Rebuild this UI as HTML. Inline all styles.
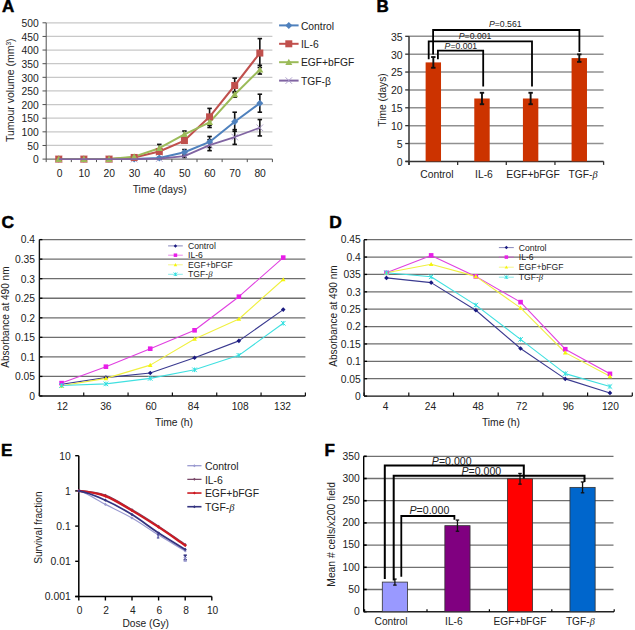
<!DOCTYPE html>
<html><head><meta charset="utf-8"><title>Figure</title>
<style>
html,body{margin:0;padding:0;background:#fff;width:635px;height:630px;overflow:hidden}
svg{display:block;font-family:"Liberation Sans", sans-serif}

</style></head><body>
<svg width="635" height="630" viewBox="0 0 635 630">
<rect width="635" height="630" fill="#fff"/>
<text x="2" y="12.4" font-size="17" text-anchor="start" font-weight="bold" fill="#000" stroke="#000" stroke-width="0.5">A</text>
<line x1="42.5" y1="159.1" x2="46.2" y2="159.1" stroke="#505050" stroke-width="1"/>
<text x="38.8" y="163.3" font-size="10.3" text-anchor="end" font-weight="normal" fill="#222">0</text>
<line x1="46.2" y1="145.47" x2="272.4" y2="145.47" stroke="#c8c8c8" stroke-width="1.3"/>
<line x1="42.5" y1="145.47" x2="46.2" y2="145.47" stroke="#505050" stroke-width="1"/>
<text x="38.8" y="149.67" font-size="10.3" text-anchor="end" font-weight="normal" fill="#222">50</text>
<line x1="46.2" y1="131.84" x2="272.4" y2="131.84" stroke="#c8c8c8" stroke-width="1.3"/>
<line x1="42.5" y1="131.84" x2="46.2" y2="131.84" stroke="#505050" stroke-width="1"/>
<text x="38.8" y="136.04" font-size="10.3" text-anchor="end" font-weight="normal" fill="#222">100</text>
<line x1="46.2" y1="118.21" x2="272.4" y2="118.21" stroke="#c8c8c8" stroke-width="1.3"/>
<line x1="42.5" y1="118.21" x2="46.2" y2="118.21" stroke="#505050" stroke-width="1"/>
<text x="38.8" y="122.41" font-size="10.3" text-anchor="end" font-weight="normal" fill="#222">150</text>
<line x1="46.2" y1="104.58" x2="272.4" y2="104.58" stroke="#c8c8c8" stroke-width="1.3"/>
<line x1="42.5" y1="104.58" x2="46.2" y2="104.58" stroke="#505050" stroke-width="1"/>
<text x="38.8" y="108.78" font-size="10.3" text-anchor="end" font-weight="normal" fill="#222">200</text>
<line x1="46.2" y1="90.95" x2="272.4" y2="90.95" stroke="#c8c8c8" stroke-width="1.3"/>
<line x1="42.5" y1="90.95" x2="46.2" y2="90.95" stroke="#505050" stroke-width="1"/>
<text x="38.8" y="95.15" font-size="10.3" text-anchor="end" font-weight="normal" fill="#222">250</text>
<line x1="46.2" y1="77.32" x2="272.4" y2="77.32" stroke="#c8c8c8" stroke-width="1.3"/>
<line x1="42.5" y1="77.32" x2="46.2" y2="77.32" stroke="#505050" stroke-width="1"/>
<text x="38.8" y="81.52" font-size="10.3" text-anchor="end" font-weight="normal" fill="#222">300</text>
<line x1="46.2" y1="63.69" x2="272.4" y2="63.69" stroke="#c8c8c8" stroke-width="1.3"/>
<line x1="42.5" y1="63.69" x2="46.2" y2="63.69" stroke="#505050" stroke-width="1"/>
<text x="38.8" y="67.89" font-size="10.3" text-anchor="end" font-weight="normal" fill="#222">350</text>
<line x1="46.2" y1="50.06" x2="272.4" y2="50.06" stroke="#c8c8c8" stroke-width="1.3"/>
<line x1="42.5" y1="50.06" x2="46.2" y2="50.06" stroke="#505050" stroke-width="1"/>
<text x="38.8" y="54.26" font-size="10.3" text-anchor="end" font-weight="normal" fill="#222">400</text>
<line x1="46.2" y1="36.43" x2="272.4" y2="36.43" stroke="#c8c8c8" stroke-width="1.3"/>
<line x1="42.5" y1="36.43" x2="46.2" y2="36.43" stroke="#505050" stroke-width="1"/>
<text x="38.8" y="40.63" font-size="10.3" text-anchor="end" font-weight="normal" fill="#222">450</text>
<line x1="46.2" y1="22.8" x2="272.4" y2="22.8" stroke="#c8c8c8" stroke-width="1.3"/>
<line x1="42.5" y1="22.8" x2="46.2" y2="22.8" stroke="#505050" stroke-width="1"/>
<text x="38.8" y="27" font-size="10.3" text-anchor="end" font-weight="normal" fill="#222">500</text>
<line x1="46.2" y1="22.8" x2="46.2" y2="159.1" stroke="#505050" stroke-width="1"/>
<line x1="46.2" y1="159.1" x2="272.4" y2="159.1" stroke="#505050" stroke-width="1"/>
<line x1="46.2" y1="159.1" x2="46.2" y2="162.1" stroke="#505050" stroke-width="1"/>
<line x1="71.33" y1="159.1" x2="71.33" y2="162.1" stroke="#505050" stroke-width="1"/>
<line x1="96.47" y1="159.1" x2="96.47" y2="162.1" stroke="#505050" stroke-width="1"/>
<line x1="121.6" y1="159.1" x2="121.6" y2="162.1" stroke="#505050" stroke-width="1"/>
<line x1="146.73" y1="159.1" x2="146.73" y2="162.1" stroke="#505050" stroke-width="1"/>
<line x1="171.87" y1="159.1" x2="171.87" y2="162.1" stroke="#505050" stroke-width="1"/>
<line x1="197" y1="159.1" x2="197" y2="162.1" stroke="#505050" stroke-width="1"/>
<line x1="222.13" y1="159.1" x2="222.13" y2="162.1" stroke="#505050" stroke-width="1"/>
<line x1="247.27" y1="159.1" x2="247.27" y2="162.1" stroke="#505050" stroke-width="1"/>
<line x1="272.4" y1="159.1" x2="272.4" y2="162.1" stroke="#505050" stroke-width="1"/>
<text x="59.57" y="176.6" font-size="10.3" text-anchor="middle" font-weight="normal" fill="#222">0</text>
<text x="84.2" y="176.6" font-size="10.3" text-anchor="middle" font-weight="normal" fill="#222">10</text>
<text x="109.33" y="176.6" font-size="10.3" text-anchor="middle" font-weight="normal" fill="#222">20</text>
<text x="134.47" y="176.6" font-size="10.3" text-anchor="middle" font-weight="normal" fill="#222">30</text>
<text x="159.6" y="176.6" font-size="10.3" text-anchor="middle" font-weight="normal" fill="#222">40</text>
<text x="184.73" y="176.6" font-size="10.3" text-anchor="middle" font-weight="normal" fill="#222">50</text>
<text x="209.87" y="176.6" font-size="10.3" text-anchor="middle" font-weight="normal" fill="#222">60</text>
<text x="235" y="176.6" font-size="10.3" text-anchor="middle" font-weight="normal" fill="#222">70</text>
<text x="260.13" y="176.6" font-size="10.3" text-anchor="middle" font-weight="normal" fill="#222">80</text>
<text x="159.7" y="193" font-size="10.3" text-anchor="middle" font-weight="normal" fill="#222">Time (days)</text>
<text transform="translate(14.4,90.2) rotate(-90)" font-size="10.5" text-anchor="middle" fill="#222">Tumour volume (mm<tspan font-size="6.5" dy="-3.5">3</tspan><tspan dy="3.5">)</tspan></text>
<line x1="159.3" y1="157.19" x2="159.3" y2="158.83" stroke="#111" stroke-width="1.6"/>
<line x1="157.05" y1="157.19" x2="161.55" y2="157.19" stroke="#111" stroke-width="1.6"/>
<line x1="157.05" y1="158.83" x2="161.55" y2="158.83" stroke="#111" stroke-width="1.6"/>
<line x1="184.43" y1="149.56" x2="184.43" y2="155.01" stroke="#111" stroke-width="1.6"/>
<line x1="182.18" y1="149.56" x2="186.68" y2="149.56" stroke="#111" stroke-width="1.6"/>
<line x1="182.18" y1="155.01" x2="186.68" y2="155.01" stroke="#111" stroke-width="1.6"/>
<line x1="209.57" y1="136.47" x2="209.57" y2="147.38" stroke="#111" stroke-width="1.6"/>
<line x1="207.32" y1="136.47" x2="211.82" y2="136.47" stroke="#111" stroke-width="1.6"/>
<line x1="207.32" y1="147.38" x2="211.82" y2="147.38" stroke="#111" stroke-width="1.6"/>
<line x1="234.7" y1="112.21" x2="234.7" y2="131.29" stroke="#111" stroke-width="1.6"/>
<line x1="232.45" y1="112.21" x2="236.95" y2="112.21" stroke="#111" stroke-width="1.6"/>
<line x1="232.45" y1="131.29" x2="236.95" y2="131.29" stroke="#111" stroke-width="1.6"/>
<line x1="259.83" y1="94.22" x2="259.83" y2="112.21" stroke="#111" stroke-width="1.6"/>
<line x1="257.58" y1="94.22" x2="262.08" y2="94.22" stroke="#111" stroke-width="1.6"/>
<line x1="257.58" y1="112.21" x2="262.08" y2="112.21" stroke="#111" stroke-width="1.6"/>
<line x1="159.3" y1="150.1" x2="159.3" y2="152.83" stroke="#111" stroke-width="1.6"/>
<line x1="157.05" y1="150.1" x2="161.55" y2="150.1" stroke="#111" stroke-width="1.6"/>
<line x1="157.05" y1="152.83" x2="161.55" y2="152.83" stroke="#111" stroke-width="1.6"/>
<line x1="184.43" y1="138.38" x2="184.43" y2="142.74" stroke="#111" stroke-width="1.6"/>
<line x1="182.18" y1="138.38" x2="186.68" y2="138.38" stroke="#111" stroke-width="1.6"/>
<line x1="182.18" y1="142.74" x2="186.68" y2="142.74" stroke="#111" stroke-width="1.6"/>
<line x1="209.57" y1="108.4" x2="209.57" y2="125.3" stroke="#111" stroke-width="1.6"/>
<line x1="207.32" y1="108.4" x2="211.82" y2="108.4" stroke="#111" stroke-width="1.6"/>
<line x1="207.32" y1="125.3" x2="211.82" y2="125.3" stroke="#111" stroke-width="1.6"/>
<line x1="234.7" y1="78.14" x2="234.7" y2="92.86" stroke="#111" stroke-width="1.6"/>
<line x1="232.45" y1="78.14" x2="236.95" y2="78.14" stroke="#111" stroke-width="1.6"/>
<line x1="232.45" y1="92.86" x2="236.95" y2="92.86" stroke="#111" stroke-width="1.6"/>
<line x1="259.83" y1="38.61" x2="259.83" y2="67.51" stroke="#111" stroke-width="1.6"/>
<line x1="257.58" y1="38.61" x2="262.08" y2="38.61" stroke="#111" stroke-width="1.6"/>
<line x1="257.58" y1="67.51" x2="262.08" y2="67.51" stroke="#111" stroke-width="1.6"/>
<line x1="159.3" y1="144.38" x2="159.3" y2="152.01" stroke="#111" stroke-width="1.6"/>
<line x1="157.05" y1="144.38" x2="161.55" y2="144.38" stroke="#111" stroke-width="1.6"/>
<line x1="157.05" y1="152.01" x2="161.55" y2="152.01" stroke="#111" stroke-width="1.6"/>
<line x1="184.43" y1="131.02" x2="184.43" y2="137.56" stroke="#111" stroke-width="1.6"/>
<line x1="182.18" y1="131.02" x2="186.68" y2="131.02" stroke="#111" stroke-width="1.6"/>
<line x1="182.18" y1="137.56" x2="186.68" y2="137.56" stroke="#111" stroke-width="1.6"/>
<line x1="209.57" y1="117.12" x2="209.57" y2="127.48" stroke="#111" stroke-width="1.6"/>
<line x1="207.32" y1="117.12" x2="211.82" y2="117.12" stroke="#111" stroke-width="1.6"/>
<line x1="207.32" y1="127.48" x2="211.82" y2="127.48" stroke="#111" stroke-width="1.6"/>
<line x1="234.7" y1="91.77" x2="234.7" y2="97.22" stroke="#111" stroke-width="1.6"/>
<line x1="232.45" y1="91.77" x2="236.95" y2="91.77" stroke="#111" stroke-width="1.6"/>
<line x1="232.45" y1="97.22" x2="236.95" y2="97.22" stroke="#111" stroke-width="1.6"/>
<line x1="259.83" y1="65.33" x2="259.83" y2="74.05" stroke="#111" stroke-width="1.6"/>
<line x1="257.58" y1="65.33" x2="262.08" y2="65.33" stroke="#111" stroke-width="1.6"/>
<line x1="257.58" y1="74.05" x2="262.08" y2="74.05" stroke="#111" stroke-width="1.6"/>
<line x1="184.43" y1="154.74" x2="184.43" y2="157.46" stroke="#111" stroke-width="1.6"/>
<line x1="182.18" y1="154.74" x2="186.68" y2="154.74" stroke="#111" stroke-width="1.6"/>
<line x1="182.18" y1="157.46" x2="186.68" y2="157.46" stroke="#111" stroke-width="1.6"/>
<line x1="209.57" y1="139.75" x2="209.57" y2="150.65" stroke="#111" stroke-width="1.6"/>
<line x1="207.32" y1="139.75" x2="211.82" y2="139.75" stroke="#111" stroke-width="1.6"/>
<line x1="207.32" y1="150.65" x2="211.82" y2="150.65" stroke="#111" stroke-width="1.6"/>
<line x1="234.7" y1="129.66" x2="234.7" y2="144.38" stroke="#111" stroke-width="1.6"/>
<line x1="232.45" y1="129.66" x2="236.95" y2="129.66" stroke="#111" stroke-width="1.6"/>
<line x1="232.45" y1="144.38" x2="236.95" y2="144.38" stroke="#111" stroke-width="1.6"/>
<line x1="259.83" y1="119.57" x2="259.83" y2="135.93" stroke="#111" stroke-width="1.6"/>
<line x1="257.58" y1="119.57" x2="262.08" y2="119.57" stroke="#111" stroke-width="1.6"/>
<line x1="257.58" y1="135.93" x2="262.08" y2="135.93" stroke="#111" stroke-width="1.6"/>
<polyline points="58.77,159.1 83.9,159.1 109.03,159.1 134.17,159.1 159.3,158.01 184.43,152.28 209.57,141.93 234.7,121.75 259.83,103.22" fill="none" stroke="#4F81BD" stroke-width="2" stroke-linejoin="round"/>
<polyline points="58.77,159.1 83.9,159.1 109.03,159.1 134.17,157.46 159.3,151.47 184.43,140.56 209.57,116.85 234.7,85.5 259.83,53.06" fill="none" stroke="#C0504D" stroke-width="2" stroke-linejoin="round"/>
<polyline points="58.77,159.1 83.9,159.1 109.03,159.1 134.17,156.65 159.3,148.2 184.43,134.29 209.57,122.3 234.7,94.49 259.83,69.69" fill="none" stroke="#9BBB59" stroke-width="2" stroke-linejoin="round"/>
<path d="M55.52 155.85L62.02 162.35M55.52 162.35L62.02 155.85" stroke="#a898c8" stroke-width="0.9" fill="none"/>
<path d="M80.65 155.85L87.15 162.35M80.65 162.35L87.15 155.85" stroke="#a898c8" stroke-width="0.9" fill="none"/>
<path d="M105.78 155.85L112.28 162.35M105.78 162.35L112.28 155.85" stroke="#a898c8" stroke-width="0.9" fill="none"/>
<path d="M130.92 155.85L137.42 162.35M130.92 162.35L137.42 155.85" stroke="#a898c8" stroke-width="0.9" fill="none"/>
<path d="M156.05 155.3L162.55 161.8M156.05 161.8L162.55 155.3" stroke="#a898c8" stroke-width="0.9" fill="none"/>
<path d="M181.18 152.85L187.68 159.35M181.18 159.35L187.68 152.85" stroke="#a898c8" stroke-width="0.9" fill="none"/>
<path d="M206.32 141.95L212.82 148.45M206.32 148.45L212.82 141.95" stroke="#a898c8" stroke-width="0.9" fill="none"/>
<path d="M231.45 133.77L237.95 140.27M231.45 140.27L237.95 133.77" stroke="#a898c8" stroke-width="0.9" fill="none"/>
<path d="M256.58 124.5L263.08 131M256.58 131L263.08 124.5" stroke="#a898c8" stroke-width="0.9" fill="none"/>
<path d="M58.77 155.6L62.27 159.1L58.77 162.6L55.27 159.1Z" fill="#4F81BD"/>
<path d="M83.9 155.6L87.4 159.1L83.9 162.6L80.4 159.1Z" fill="#4F81BD"/>
<path d="M109.03 155.6L112.53 159.1L109.03 162.6L105.53 159.1Z" fill="#4F81BD"/>
<path d="M134.17 155.6L137.67 159.1L134.17 162.6L130.67 159.1Z" fill="#4F81BD"/>
<path d="M159.3 154.51L162.8 158.01L159.3 161.51L155.8 158.01Z" fill="#4F81BD"/>
<path d="M184.43 148.78L187.93 152.28L184.43 155.78L180.93 152.28Z" fill="#4F81BD"/>
<path d="M209.57 138.43L213.07 141.93L209.57 145.43L206.07 141.93Z" fill="#4F81BD"/>
<path d="M234.7 118.25L238.2 121.75L234.7 125.25L231.2 121.75Z" fill="#4F81BD"/>
<path d="M259.83 99.72L263.33 103.22L259.83 106.72L256.33 103.22Z" fill="#4F81BD"/>
<rect x="55.27" y="155.6" width="7" height="7" fill="#C0504D" stroke="none" stroke-width="0"/>
<rect x="80.4" y="155.6" width="7" height="7" fill="#C0504D" stroke="none" stroke-width="0"/>
<rect x="105.53" y="155.6" width="7" height="7" fill="#C0504D" stroke="none" stroke-width="0"/>
<rect x="130.67" y="153.96" width="7" height="7" fill="#C0504D" stroke="none" stroke-width="0"/>
<rect x="155.8" y="147.97" width="7" height="7" fill="#C0504D" stroke="none" stroke-width="0"/>
<rect x="180.93" y="137.06" width="7" height="7" fill="#C0504D" stroke="none" stroke-width="0"/>
<rect x="206.07" y="113.35" width="7" height="7" fill="#C0504D" stroke="none" stroke-width="0"/>
<rect x="231.2" y="82" width="7" height="7" fill="#C0504D" stroke="none" stroke-width="0"/>
<rect x="256.33" y="49.56" width="7" height="7" fill="#C0504D" stroke="none" stroke-width="0"/>
<path d="M58.77 155.6L62.27 161.9L55.27 161.9Z" fill="#9BBB59"/>
<path d="M83.9 155.6L87.4 161.9L80.4 161.9Z" fill="#9BBB59"/>
<path d="M109.03 155.6L112.53 161.9L105.53 161.9Z" fill="#9BBB59"/>
<path d="M134.17 153.15L137.67 159.45L130.67 159.45Z" fill="#9BBB59"/>
<path d="M159.3 144.7L162.8 151L155.8 151Z" fill="#9BBB59"/>
<path d="M184.43 130.79L187.93 137.09L180.93 137.09Z" fill="#9BBB59"/>
<path d="M209.57 118.8L213.07 125.1L206.07 125.1Z" fill="#9BBB59"/>
<path d="M234.7 90.99L238.2 97.29L231.2 97.29Z" fill="#9BBB59"/>
<path d="M259.83 66.19L263.33 72.49L256.33 72.49Z" fill="#9BBB59"/>
<polyline points="58.77,159.1 83.9,159.1 109.03,159.1 134.17,159.1 159.3,158.55 184.43,156.1 209.57,145.2 234.7,137.02 259.83,127.75" fill="none" stroke="#8064A2" stroke-width="1.8" stroke-linejoin="round"/>
<line x1="279.1" y1="25.4" x2="298.6" y2="25.4" stroke="#4F81BD" stroke-width="2"/>
<path d="M288.8 21.9L292.3 25.4L288.8 28.9L285.3 25.4Z" fill="#4F81BD"/>
<text x="300.9" y="29.6" font-size="10.3" text-anchor="start" font-weight="normal" fill="#222">Control</text>
<line x1="279.1" y1="43.8" x2="298.6" y2="43.8" stroke="#C0504D" stroke-width="2"/>
<rect x="285.3" y="40.3" width="7" height="7" fill="#C0504D" stroke="none" stroke-width="0"/>
<text x="300.9" y="48" font-size="10.3" text-anchor="start" font-weight="normal" fill="#222">IL-6</text>
<line x1="279.1" y1="62.2" x2="298.6" y2="62.2" stroke="#9BBB59" stroke-width="2"/>
<path d="M288.8 58.7L292.3 65L285.3 65Z" fill="#9BBB59"/>
<text x="300.9" y="66.4" font-size="10.3" text-anchor="start" font-weight="normal" fill="#222">EGF+bFGF</text>
<line x1="279.1" y1="80.6" x2="298.6" y2="80.6" stroke="#8064A2" stroke-width="2"/>
<path d="M285.55 77.35L292.05 83.85M285.55 83.85L292.05 77.35" stroke="#a898c8" stroke-width="0.9" fill="none"/>
<text x="300.9" y="84.8" font-size="10.3" text-anchor="start" font-weight="normal" fill="#222">TGF-&#946;</text>
<text x="376.4" y="12" font-size="17" text-anchor="start" font-weight="bold" fill="#000" stroke="#000" stroke-width="0.5">B</text>
<line x1="405.2" y1="161.4" x2="409" y2="161.4" stroke="#333" stroke-width="1.3"/>
<text x="402.6" y="165.8" font-size="10.5" text-anchor="end" font-weight="normal" fill="#222">0</text>
<line x1="409" y1="143.53" x2="603.6" y2="143.53" stroke="#909090" stroke-width="1.5"/>
<line x1="405.2" y1="143.53" x2="409" y2="143.53" stroke="#333" stroke-width="1.3"/>
<text x="402.6" y="147.93" font-size="10.5" text-anchor="end" font-weight="normal" fill="#222">5</text>
<line x1="409" y1="125.66" x2="603.6" y2="125.66" stroke="#909090" stroke-width="1.5"/>
<line x1="405.2" y1="125.66" x2="409" y2="125.66" stroke="#333" stroke-width="1.3"/>
<text x="402.6" y="130.06" font-size="10.5" text-anchor="end" font-weight="normal" fill="#222">10</text>
<line x1="409" y1="107.79" x2="603.6" y2="107.79" stroke="#909090" stroke-width="1.5"/>
<line x1="405.2" y1="107.79" x2="409" y2="107.79" stroke="#333" stroke-width="1.3"/>
<text x="402.6" y="112.19" font-size="10.5" text-anchor="end" font-weight="normal" fill="#222">15</text>
<line x1="409" y1="89.92" x2="603.6" y2="89.92" stroke="#909090" stroke-width="1.5"/>
<line x1="405.2" y1="89.92" x2="409" y2="89.92" stroke="#333" stroke-width="1.3"/>
<text x="402.6" y="94.32" font-size="10.5" text-anchor="end" font-weight="normal" fill="#222">20</text>
<line x1="409" y1="72.05" x2="603.6" y2="72.05" stroke="#909090" stroke-width="1.5"/>
<line x1="405.2" y1="72.05" x2="409" y2="72.05" stroke="#333" stroke-width="1.3"/>
<text x="402.6" y="76.45" font-size="10.5" text-anchor="end" font-weight="normal" fill="#222">25</text>
<line x1="409" y1="54.18" x2="603.6" y2="54.18" stroke="#909090" stroke-width="1.5"/>
<line x1="405.2" y1="54.18" x2="409" y2="54.18" stroke="#333" stroke-width="1.3"/>
<text x="402.6" y="58.58" font-size="10.5" text-anchor="end" font-weight="normal" fill="#222">30</text>
<line x1="409" y1="36.31" x2="603.6" y2="36.31" stroke="#909090" stroke-width="1.5"/>
<line x1="405.2" y1="36.31" x2="409" y2="36.31" stroke="#333" stroke-width="1.3"/>
<text x="402.6" y="40.71" font-size="10.5" text-anchor="end" font-weight="normal" fill="#222">35</text>
<line x1="409" y1="36.31" x2="409" y2="164.9" stroke="#333" stroke-width="1.5"/>
<line x1="405.5" y1="161.4" x2="603.6" y2="161.4" stroke="#333" stroke-width="1.5"/>
<line x1="409" y1="161.4" x2="409" y2="164.9" stroke="#333" stroke-width="1.3"/>
<line x1="457.65" y1="161.4" x2="457.65" y2="164.9" stroke="#333" stroke-width="1.3"/>
<line x1="506.3" y1="161.4" x2="506.3" y2="164.9" stroke="#333" stroke-width="1.3"/>
<line x1="554.95" y1="161.4" x2="554.95" y2="164.9" stroke="#333" stroke-width="1.3"/>
<line x1="603.6" y1="161.4" x2="603.6" y2="164.9" stroke="#333" stroke-width="1.3"/>
<rect x="425.62" y="62.4" width="15.4" height="99" fill="#CC3300" stroke="none" stroke-width="0"/>
<rect x="474.28" y="98.5" width="15.4" height="62.9" fill="#CC3300" stroke="none" stroke-width="0"/>
<rect x="522.92" y="98.5" width="15.4" height="62.9" fill="#CC3300" stroke="none" stroke-width="0"/>
<rect x="571.58" y="58.11" width="15.4" height="103.29" fill="#CC3300" stroke="none" stroke-width="0"/>
<line x1="433.32" y1="57.04" x2="433.32" y2="67.76" stroke="#111" stroke-width="1.9"/>
<line x1="431.12" y1="57.04" x2="435.52" y2="57.04" stroke="#111" stroke-width="1.9"/>
<line x1="431.12" y1="67.76" x2="435.52" y2="67.76" stroke="#111" stroke-width="1.9"/>
<line x1="481.98" y1="92.78" x2="481.98" y2="104.22" stroke="#111" stroke-width="1.9"/>
<line x1="479.78" y1="92.78" x2="484.18" y2="92.78" stroke="#111" stroke-width="1.9"/>
<line x1="479.78" y1="104.22" x2="484.18" y2="104.22" stroke="#111" stroke-width="1.9"/>
<line x1="530.62" y1="92.78" x2="530.62" y2="104.22" stroke="#111" stroke-width="1.9"/>
<line x1="528.42" y1="92.78" x2="532.83" y2="92.78" stroke="#111" stroke-width="1.9"/>
<line x1="528.42" y1="104.22" x2="532.83" y2="104.22" stroke="#111" stroke-width="1.9"/>
<line x1="579.28" y1="54.36" x2="579.28" y2="61.86" stroke="#111" stroke-width="1.9"/>
<line x1="577.08" y1="54.36" x2="581.48" y2="54.36" stroke="#111" stroke-width="1.9"/>
<line x1="577.08" y1="61.86" x2="581.48" y2="61.86" stroke="#111" stroke-width="1.9"/>
<text x="436.93" y="177.8" font-size="10.3" text-anchor="middle" font-weight="normal" fill="#222">Control</text>
<text x="483.98" y="177.8" font-size="10.3" text-anchor="middle" font-weight="normal" fill="#222">IL-6</text>
<text x="533.02" y="177.8" font-size="10.3" text-anchor="middle" font-weight="normal" fill="#222">EGF+bFGF</text>
<text x="583.08" y="177.8" font-size="10.3" text-anchor="middle" font-weight="normal" fill="#222">TGF-<tspan font-family="Liberation Serif" font-style="italic">&#946;</tspan></text>
<text x="0" y="0" font-size="10.2" text-anchor="middle" font-weight="normal" fill="#222" transform="translate(385.7,100) rotate(-90)">Time (days)</text>
<path d="M433.1 54.5V30.0H579.4V52" stroke="#000" stroke-width="1.8" fill="none"/>
<path d="M428.7 59.2V41.3H532V86.6" stroke="#000" stroke-width="1.8" fill="none"/>
<path d="M437.9 59.2V50.6H483.2V86.6" stroke="#000" stroke-width="1.8" fill="none"/>
<text x="489" y="27.3" font-size="8.7" fill="#222"><tspan font-style="italic">P</tspan>=0.561</text>
<text x="458.8" y="39" font-size="8.7" fill="#222"><tspan font-style="italic">P</tspan>=0.001</text>
<text x="444.6" y="49.4" font-size="8.7" fill="#222"><tspan font-style="italic">P</tspan>=0.001</text>
<text x="1.5" y="228.1" font-size="17.4" text-anchor="start" font-weight="bold" fill="#000" stroke="#000" stroke-width="0.5">C</text>
<line x1="39.4" y1="396" x2="42.4" y2="396" stroke="#000" stroke-width="1.3"/>
<text x="35" y="399.8" font-size="10.3" text-anchor="end" font-weight="normal" fill="#222">0</text>
<line x1="39.4" y1="376.45" x2="305.4" y2="376.45" stroke="#6e6e6e" stroke-width="1.3"/>
<line x1="39.4" y1="376.45" x2="42.4" y2="376.45" stroke="#000" stroke-width="1.3"/>
<text x="35" y="380.25" font-size="10.3" text-anchor="end" font-weight="normal" fill="#222">0.05</text>
<line x1="39.4" y1="356.9" x2="305.4" y2="356.9" stroke="#6e6e6e" stroke-width="1.3"/>
<line x1="39.4" y1="356.9" x2="42.4" y2="356.9" stroke="#000" stroke-width="1.3"/>
<text x="35" y="360.7" font-size="10.3" text-anchor="end" font-weight="normal" fill="#222">0.1</text>
<line x1="39.4" y1="337.35" x2="305.4" y2="337.35" stroke="#6e6e6e" stroke-width="1.3"/>
<line x1="39.4" y1="337.35" x2="42.4" y2="337.35" stroke="#000" stroke-width="1.3"/>
<text x="35" y="341.15" font-size="10.3" text-anchor="end" font-weight="normal" fill="#222">0.15</text>
<line x1="39.4" y1="317.8" x2="305.4" y2="317.8" stroke="#6e6e6e" stroke-width="1.3"/>
<line x1="39.4" y1="317.8" x2="42.4" y2="317.8" stroke="#000" stroke-width="1.3"/>
<text x="35" y="321.6" font-size="10.3" text-anchor="end" font-weight="normal" fill="#222">0.2</text>
<line x1="39.4" y1="298.25" x2="305.4" y2="298.25" stroke="#6e6e6e" stroke-width="1.3"/>
<line x1="39.4" y1="298.25" x2="42.4" y2="298.25" stroke="#000" stroke-width="1.3"/>
<text x="35" y="302.05" font-size="10.3" text-anchor="end" font-weight="normal" fill="#222">0.25</text>
<line x1="39.4" y1="278.7" x2="305.4" y2="278.7" stroke="#6e6e6e" stroke-width="1.3"/>
<line x1="39.4" y1="278.7" x2="42.4" y2="278.7" stroke="#000" stroke-width="1.3"/>
<text x="35" y="282.5" font-size="10.3" text-anchor="end" font-weight="normal" fill="#222">0.3</text>
<line x1="39.4" y1="259.15" x2="305.4" y2="259.15" stroke="#6e6e6e" stroke-width="1.3"/>
<line x1="39.4" y1="259.15" x2="42.4" y2="259.15" stroke="#000" stroke-width="1.3"/>
<text x="35" y="262.95" font-size="10.3" text-anchor="end" font-weight="normal" fill="#222">0.35</text>
<line x1="39.4" y1="239.6" x2="305.4" y2="239.6" stroke="#6e6e6e" stroke-width="1.3"/>
<line x1="39.4" y1="239.6" x2="42.4" y2="239.6" stroke="#000" stroke-width="1.3"/>
<text x="35" y="243.4" font-size="10.3" text-anchor="end" font-weight="normal" fill="#222">0.4</text>
<line x1="39.4" y1="239.6" x2="39.4" y2="396" stroke="#111" stroke-width="1.4"/>
<line x1="39.4" y1="396" x2="305.4" y2="396" stroke="#111" stroke-width="1.4"/>
<line x1="39.4" y1="396" x2="39.4" y2="392.5" stroke="#111" stroke-width="1.2"/>
<line x1="83.73" y1="396" x2="83.73" y2="392.5" stroke="#111" stroke-width="1.2"/>
<line x1="128.07" y1="396" x2="128.07" y2="392.5" stroke="#111" stroke-width="1.2"/>
<line x1="172.4" y1="396" x2="172.4" y2="392.5" stroke="#111" stroke-width="1.2"/>
<line x1="216.73" y1="396" x2="216.73" y2="392.5" stroke="#111" stroke-width="1.2"/>
<line x1="261.07" y1="396" x2="261.07" y2="392.5" stroke="#111" stroke-width="1.2"/>
<line x1="305.4" y1="396" x2="305.4" y2="392.5" stroke="#111" stroke-width="1.2"/>
<text x="62.3" y="409.6" font-size="10.2" text-anchor="middle" font-weight="normal" fill="#222">12</text>
<text x="105.8" y="409.6" font-size="10.2" text-anchor="middle" font-weight="normal" fill="#222">36</text>
<text x="151.1" y="409.6" font-size="10.2" text-anchor="middle" font-weight="normal" fill="#222">60</text>
<text x="193.4" y="409.6" font-size="10.2" text-anchor="middle" font-weight="normal" fill="#222">84</text>
<text x="240.2" y="409.6" font-size="10.2" text-anchor="middle" font-weight="normal" fill="#222">108</text>
<text x="282.5" y="409.6" font-size="10.2" text-anchor="middle" font-weight="normal" fill="#222">132</text>
<text x="174" y="426.2" font-size="10.3" text-anchor="middle" font-weight="normal" fill="#222">Time (h)</text>
<text x="0" y="0" font-size="10.1" text-anchor="middle" font-weight="normal" fill="#222" transform="translate(9.1,317.1) rotate(-90)" textLength="101.5" lengthAdjust="spacingAndGlyphs">Absorbance at 490 nm</text>
<polyline points="61.57,384.27 105.9,377.62 150.23,372.93 194.57,357.68 238.9,340.87 283.23,309.59" fill="none" stroke="#3a3a90" stroke-width="1.1" stroke-linejoin="round"/>
<polyline points="61.57,383.1 105.9,366.68 150.23,348.69 194.57,330.31 238.9,296.69 283.23,257.59" fill="none" stroke="#e040e0" stroke-width="1.1" stroke-linejoin="round"/>
<polyline points="61.57,385.83 105.9,378.4 150.23,365.11 194.57,338.91 238.9,318.97 283.23,279.48" fill="none" stroke="#f0f040" stroke-width="1.1" stroke-linejoin="round"/>
<polyline points="61.57,385.44 105.9,383.88 150.23,378.4 194.57,369.8 238.9,355.34 283.23,323.27" fill="none" stroke="#40e0e0" stroke-width="1.1" stroke-linejoin="round"/>
<path d="M61.57 381.97L63.87 384.27L61.57 386.57L59.27 384.27Z" fill="#1a1a80"/>
<path d="M105.9 375.32L108.2 377.62L105.9 379.92L103.6 377.62Z" fill="#1a1a80"/>
<path d="M150.23 370.63L152.53 372.93L150.23 375.23L147.93 372.93Z" fill="#1a1a80"/>
<path d="M194.57 355.38L196.87 357.68L194.57 359.98L192.27 357.68Z" fill="#1a1a80"/>
<path d="M238.9 338.57L241.2 340.87L238.9 343.17L236.6 340.87Z" fill="#1a1a80"/>
<path d="M283.23 307.29L285.53 309.59L283.23 311.89L280.93 309.59Z" fill="#1a1a80"/>
<rect x="59.27" y="380.8" width="4.6" height="4.6" fill="#e81ee8" stroke="none" stroke-width="0"/>
<rect x="103.6" y="364.38" width="4.6" height="4.6" fill="#e81ee8" stroke="none" stroke-width="0"/>
<rect x="147.93" y="346.39" width="4.6" height="4.6" fill="#e81ee8" stroke="none" stroke-width="0"/>
<rect x="192.27" y="328.01" width="4.6" height="4.6" fill="#e81ee8" stroke="none" stroke-width="0"/>
<rect x="236.6" y="294.39" width="4.6" height="4.6" fill="#e81ee8" stroke="none" stroke-width="0"/>
<rect x="280.93" y="255.29" width="4.6" height="4.6" fill="#e81ee8" stroke="none" stroke-width="0"/>
<path d="M61.57 383.53L63.87 387.67L59.27 387.67Z" fill="#f5f50a"/>
<path d="M105.9 376.1L108.2 380.24L103.6 380.24Z" fill="#f5f50a"/>
<path d="M150.23 362.81L152.53 366.95L147.93 366.95Z" fill="#f5f50a"/>
<path d="M194.57 336.61L196.87 340.75L192.27 340.75Z" fill="#f5f50a"/>
<path d="M238.9 316.67L241.2 320.81L236.6 320.81Z" fill="#f5f50a"/>
<path d="M283.23 277.18L285.53 281.32L280.93 281.32Z" fill="#f5f50a"/>
<path d="M59.27 383.14L63.87 387.74M59.27 387.74L63.87 383.14M61.57 383.14L61.57 387.74" stroke="#30e0e0" stroke-width="1" fill="none"/>
<path d="M103.6 381.58L108.2 386.18M103.6 386.18L108.2 381.58M105.9 381.58L105.9 386.18" stroke="#30e0e0" stroke-width="1" fill="none"/>
<path d="M147.93 376.1L152.53 380.7M147.93 380.7L152.53 376.1M150.23 376.1L150.23 380.7" stroke="#30e0e0" stroke-width="1" fill="none"/>
<path d="M192.27 367.5L196.87 372.1M192.27 372.1L196.87 367.5M194.57 367.5L194.57 372.1" stroke="#30e0e0" stroke-width="1" fill="none"/>
<path d="M236.6 353.04L241.2 357.64M236.6 357.64L241.2 353.04M238.9 353.04L238.9 357.64" stroke="#30e0e0" stroke-width="1" fill="none"/>
<path d="M280.93 320.97L285.53 325.57M280.93 325.57L285.53 320.97M283.23 320.97L283.23 325.57" stroke="#30e0e0" stroke-width="1" fill="none"/>
<line x1="168.1" y1="245.9" x2="182.8" y2="245.9" stroke="#3a3a90" stroke-width="1" opacity="0.6"/>
<path d="M175.45 244.15L177.2 245.9L175.45 247.65L173.7 245.9Z" fill="#1a1a80"/>
<text x="188.1" y="249" font-size="8.6" text-anchor="start" font-weight="normal" fill="#222">Control</text>
<line x1="168.1" y1="255.2" x2="182.8" y2="255.2" stroke="#e040e0" stroke-width="1" opacity="0.6"/>
<rect x="173.7" y="253.45" width="3.5" height="3.5" fill="#e81ee8" stroke="none" stroke-width="0"/>
<text x="188.1" y="258.3" font-size="8.6" text-anchor="start" font-weight="normal" fill="#222">IL-6</text>
<line x1="168.1" y1="264.8" x2="182.8" y2="264.8" stroke="#f0f040" stroke-width="1" opacity="0.6"/>
<path d="M175.45 263.05L177.2 266.2L173.7 266.2Z" fill="#f5f50a"/>
<text x="188.1" y="267.9" font-size="8.6" text-anchor="start" font-weight="normal" fill="#222">EGF+bFGF</text>
<line x1="168.1" y1="274.3" x2="182.8" y2="274.3" stroke="#40e0e0" stroke-width="1" opacity="0.6"/>
<path d="M173.7 272.55L177.2 276.05M173.7 276.05L177.2 272.55M175.45 272.55L175.45 276.05" stroke="#30e0e0" stroke-width="1" fill="none"/>
<text x="188.1" y="277.4" font-size="8.6" text-anchor="start" font-weight="normal" fill="#222">TGF-<tspan font-family="Liberation Serif" font-style="italic">&#946;</tspan></text>
<text x="329.3" y="227.5" font-size="17.4" text-anchor="start" font-weight="bold" fill="#000" stroke="#000" stroke-width="0.5">D</text>
<line x1="364.1" y1="396.1" x2="367.1" y2="396.1" stroke="#000" stroke-width="1.3"/>
<text x="360.8" y="399.9" font-size="10.3" text-anchor="end" font-weight="normal" fill="#222">0</text>
<line x1="364.1" y1="378.72" x2="632.3" y2="378.72" stroke="#6e6e6e" stroke-width="1.3"/>
<line x1="364.1" y1="378.72" x2="367.1" y2="378.72" stroke="#000" stroke-width="1.3"/>
<text x="360.8" y="382.52" font-size="10.3" text-anchor="end" font-weight="normal" fill="#222">0.05</text>
<line x1="364.1" y1="361.34" x2="632.3" y2="361.34" stroke="#6e6e6e" stroke-width="1.3"/>
<line x1="364.1" y1="361.34" x2="367.1" y2="361.34" stroke="#000" stroke-width="1.3"/>
<text x="360.8" y="365.14" font-size="10.3" text-anchor="end" font-weight="normal" fill="#222">0.1</text>
<line x1="364.1" y1="343.96" x2="632.3" y2="343.96" stroke="#6e6e6e" stroke-width="1.3"/>
<line x1="364.1" y1="343.96" x2="367.1" y2="343.96" stroke="#000" stroke-width="1.3"/>
<text x="360.8" y="347.76" font-size="10.3" text-anchor="end" font-weight="normal" fill="#222">0.15</text>
<line x1="364.1" y1="326.58" x2="632.3" y2="326.58" stroke="#6e6e6e" stroke-width="1.3"/>
<line x1="364.1" y1="326.58" x2="367.1" y2="326.58" stroke="#000" stroke-width="1.3"/>
<text x="360.8" y="330.38" font-size="10.3" text-anchor="end" font-weight="normal" fill="#222">0.2</text>
<line x1="364.1" y1="309.2" x2="632.3" y2="309.2" stroke="#6e6e6e" stroke-width="1.3"/>
<line x1="364.1" y1="309.2" x2="367.1" y2="309.2" stroke="#000" stroke-width="1.3"/>
<text x="360.8" y="313" font-size="10.3" text-anchor="end" font-weight="normal" fill="#222">0.25</text>
<line x1="364.1" y1="291.82" x2="632.3" y2="291.82" stroke="#6e6e6e" stroke-width="1.3"/>
<line x1="364.1" y1="291.82" x2="367.1" y2="291.82" stroke="#000" stroke-width="1.3"/>
<text x="360.8" y="295.62" font-size="10.3" text-anchor="end" font-weight="normal" fill="#222">0.3</text>
<line x1="364.1" y1="274.44" x2="632.3" y2="274.44" stroke="#6e6e6e" stroke-width="1.3"/>
<line x1="364.1" y1="274.44" x2="367.1" y2="274.44" stroke="#000" stroke-width="1.3"/>
<text x="360.8" y="278.24" font-size="10.3" text-anchor="end" font-weight="normal" fill="#222">035</text>
<line x1="364.1" y1="257.06" x2="632.3" y2="257.06" stroke="#6e6e6e" stroke-width="1.3"/>
<line x1="364.1" y1="257.06" x2="367.1" y2="257.06" stroke="#000" stroke-width="1.3"/>
<text x="360.8" y="260.86" font-size="10.3" text-anchor="end" font-weight="normal" fill="#222">0.4</text>
<line x1="364.1" y1="239.68" x2="632.3" y2="239.68" stroke="#6e6e6e" stroke-width="1.3"/>
<line x1="364.1" y1="239.68" x2="367.1" y2="239.68" stroke="#000" stroke-width="1.3"/>
<text x="360.8" y="243.48" font-size="10.3" text-anchor="end" font-weight="normal" fill="#222">0.45</text>
<line x1="364.1" y1="239.68" x2="364.1" y2="396.1" stroke="#111" stroke-width="1.4"/>
<line x1="364.1" y1="396.1" x2="632.3" y2="396.1" stroke="#111" stroke-width="1.4"/>
<line x1="364.1" y1="396.1" x2="364.1" y2="392.6" stroke="#111" stroke-width="1.2"/>
<line x1="408.8" y1="396.1" x2="408.8" y2="392.6" stroke="#111" stroke-width="1.2"/>
<line x1="453.5" y1="396.1" x2="453.5" y2="392.6" stroke="#111" stroke-width="1.2"/>
<line x1="498.2" y1="396.1" x2="498.2" y2="392.6" stroke="#111" stroke-width="1.2"/>
<line x1="542.9" y1="396.1" x2="542.9" y2="392.6" stroke="#111" stroke-width="1.2"/>
<line x1="587.6" y1="396.1" x2="587.6" y2="392.6" stroke="#111" stroke-width="1.2"/>
<line x1="632.3" y1="396.1" x2="632.3" y2="392.6" stroke="#111" stroke-width="1.2"/>
<text x="385.6" y="409.6" font-size="10.2" text-anchor="middle" font-weight="normal" fill="#222">4</text>
<text x="430.5" y="409.6" font-size="10.2" text-anchor="middle" font-weight="normal" fill="#222">24</text>
<text x="478.1" y="409.6" font-size="10.2" text-anchor="middle" font-weight="normal" fill="#222">48</text>
<text x="521.7" y="409.6" font-size="10.2" text-anchor="middle" font-weight="normal" fill="#222">72</text>
<text x="568.3" y="409.6" font-size="10.2" text-anchor="middle" font-weight="normal" fill="#222">96</text>
<text x="610.4" y="409.6" font-size="10.2" text-anchor="middle" font-weight="normal" fill="#222">120</text>
<text x="500.9" y="426.2" font-size="10.3" text-anchor="middle" font-weight="normal" fill="#222">Time (h)</text>
<text x="0" y="0" font-size="10.1" text-anchor="middle" font-weight="normal" fill="#222" transform="translate(336.8,316) rotate(-90)" textLength="101.5" lengthAdjust="spacingAndGlyphs">Absorbance at 490 nm</text>
<polyline points="386.45,277.92 431.15,282.61 475.85,310.21 520.55,348.51 565.25,378.89 609.95,392.9" fill="none" stroke="#3a3a90" stroke-width="1.1" stroke-linejoin="round"/>
<polyline points="386.45,272.81 431.15,255.39 475.85,276.39 520.55,302.11 565.25,349.21 609.95,373.85" fill="none" stroke="#e040e0" stroke-width="1.1" stroke-linejoin="round"/>
<polyline points="386.45,272.81 431.15,264.19 475.85,276.39 520.55,307.91 565.25,352.62 609.95,376.29" fill="none" stroke="#f0f040" stroke-width="1.1" stroke-linejoin="round"/>
<polyline points="386.45,272.81 431.15,276.8 475.85,305.1 520.55,339.41 565.25,373.61 609.95,386.51" fill="none" stroke="#40e0e0" stroke-width="1.1" stroke-linejoin="round"/>
<path d="M386.45 275.62L388.75 277.92L386.45 280.22L384.15 277.92Z" fill="#1a1a80"/>
<path d="M431.15 280.31L433.45 282.61L431.15 284.91L428.85 282.61Z" fill="#1a1a80"/>
<path d="M475.85 307.91L478.15 310.21L475.85 312.51L473.55 310.21Z" fill="#1a1a80"/>
<path d="M520.55 346.21L522.85 348.51L520.55 350.81L518.25 348.51Z" fill="#1a1a80"/>
<path d="M565.25 376.59L567.55 378.89L565.25 381.19L562.95 378.89Z" fill="#1a1a80"/>
<path d="M609.95 390.6L612.25 392.9L609.95 395.2L607.65 392.9Z" fill="#1a1a80"/>
<rect x="384.15" y="270.51" width="4.6" height="4.6" fill="#e81ee8" stroke="none" stroke-width="0"/>
<rect x="428.85" y="253.09" width="4.6" height="4.6" fill="#e81ee8" stroke="none" stroke-width="0"/>
<rect x="473.55" y="274.09" width="4.6" height="4.6" fill="#e81ee8" stroke="none" stroke-width="0"/>
<rect x="518.25" y="299.81" width="4.6" height="4.6" fill="#e81ee8" stroke="none" stroke-width="0"/>
<rect x="562.95" y="346.91" width="4.6" height="4.6" fill="#e81ee8" stroke="none" stroke-width="0"/>
<rect x="607.65" y="371.55" width="4.6" height="4.6" fill="#e81ee8" stroke="none" stroke-width="0"/>
<path d="M386.45 270.51L388.75 274.65L384.15 274.65Z" fill="#f5f50a"/>
<path d="M431.15 261.89L433.45 266.03L428.85 266.03Z" fill="#f5f50a"/>
<path d="M475.85 274.09L478.15 278.23L473.55 278.23Z" fill="#f5f50a"/>
<path d="M520.55 305.61L522.85 309.75L518.25 309.75Z" fill="#f5f50a"/>
<path d="M565.25 350.32L567.55 354.46L562.95 354.46Z" fill="#f5f50a"/>
<path d="M609.95 373.99L612.25 378.13L607.65 378.13Z" fill="#f5f50a"/>
<path d="M384.15 270.51L388.75 275.11M384.15 275.11L388.75 270.51M386.45 270.51L386.45 275.11" stroke="#30e0e0" stroke-width="1" fill="none"/>
<path d="M428.85 274.5L433.45 279.1M428.85 279.1L433.45 274.5M431.15 274.5L431.15 279.1" stroke="#30e0e0" stroke-width="1" fill="none"/>
<path d="M473.55 302.8L478.15 307.4M473.55 307.4L478.15 302.8M475.85 302.8L475.85 307.4" stroke="#30e0e0" stroke-width="1" fill="none"/>
<path d="M518.25 337.11L522.85 341.71M518.25 341.71L522.85 337.11M520.55 337.11L520.55 341.71" stroke="#30e0e0" stroke-width="1" fill="none"/>
<path d="M562.95 371.31L567.55 375.91M562.95 375.91L567.55 371.31M565.25 371.31L565.25 375.91" stroke="#30e0e0" stroke-width="1" fill="none"/>
<path d="M607.65 384.21L612.25 388.81M607.65 388.81L612.25 384.21M609.95 384.21L609.95 388.81" stroke="#30e0e0" stroke-width="1" fill="none"/>
<line x1="498.9" y1="247.6" x2="513.8" y2="247.6" stroke="#3a3a90" stroke-width="1" opacity="0.6"/>
<path d="M506.35 245.85L508.1 247.6L506.35 249.35L504.6 247.6Z" fill="#1a1a80"/>
<text x="518.8" y="250.7" font-size="8.6" text-anchor="start" font-weight="normal" fill="#222">Control</text>
<line x1="498.9" y1="257.1" x2="513.8" y2="257.1" stroke="#e040e0" stroke-width="1" opacity="0.6"/>
<rect x="504.6" y="255.35" width="3.5" height="3.5" fill="#e81ee8" stroke="none" stroke-width="0"/>
<text x="518.8" y="260.2" font-size="8.6" text-anchor="start" font-weight="normal" fill="#222">IL-6</text>
<line x1="498.9" y1="267.2" x2="513.8" y2="267.2" stroke="#f0f040" stroke-width="1" opacity="0.6"/>
<path d="M506.35 265.45L508.1 268.6L504.6 268.6Z" fill="#f5f50a"/>
<text x="518.8" y="270.3" font-size="8.6" text-anchor="start" font-weight="normal" fill="#222">EGF+bFGF</text>
<line x1="498.9" y1="277.2" x2="513.8" y2="277.2" stroke="#40e0e0" stroke-width="1" opacity="0.6"/>
<path d="M504.6 275.45L508.1 278.95M504.6 278.95L508.1 275.45M506.35 275.45L506.35 278.95" stroke="#30e0e0" stroke-width="1" fill="none"/>
<text x="518.8" y="280.3" font-size="8.6" text-anchor="start" font-weight="normal" fill="#222">TGF-<tspan font-family="Liberation Serif" font-style="italic">&#946;</tspan></text>
<text x="0.9" y="455.8" font-size="17" text-anchor="start" font-weight="bold" fill="#000" stroke="#000" stroke-width="0.5">E</text>
<line x1="75.2" y1="455.7" x2="78.8" y2="455.7" stroke="#000" stroke-width="1.4"/>
<text x="70.8" y="459.5" font-size="10.4" text-anchor="end" font-weight="normal" fill="#222">10</text>
<line x1="75.2" y1="490.9" x2="78.8" y2="490.9" stroke="#000" stroke-width="1.4"/>
<text x="70.8" y="494.7" font-size="10.4" text-anchor="end" font-weight="normal" fill="#222">1</text>
<line x1="75.2" y1="526.1" x2="78.8" y2="526.1" stroke="#000" stroke-width="1.4"/>
<text x="70.8" y="529.9" font-size="10.4" text-anchor="end" font-weight="normal" fill="#222">0.1</text>
<line x1="75.2" y1="561.3" x2="78.8" y2="561.3" stroke="#000" stroke-width="1.4"/>
<text x="70.8" y="565.1" font-size="10.4" text-anchor="end" font-weight="normal" fill="#222">0.01</text>
<line x1="75.2" y1="596.5" x2="78.8" y2="596.5" stroke="#000" stroke-width="1.4"/>
<text x="70.8" y="600.3" font-size="10.4" text-anchor="end" font-weight="normal" fill="#222">0.001</text>
<line x1="78.8" y1="455.7" x2="78.8" y2="596.5" stroke="#000" stroke-width="1.5"/>
<line x1="75.2" y1="596.5" x2="211.8" y2="596.5" stroke="#000" stroke-width="1.5"/>
<line x1="78.8" y1="596.5" x2="78.8" y2="600.5" stroke="#000" stroke-width="1.4"/>
<text x="79.6" y="613.5" font-size="10.2" text-anchor="middle" font-weight="normal" fill="#222">0</text>
<line x1="105.4" y1="596.5" x2="105.4" y2="600.5" stroke="#000" stroke-width="1.4"/>
<text x="106.2" y="613.5" font-size="10.2" text-anchor="middle" font-weight="normal" fill="#222">2</text>
<line x1="132" y1="596.5" x2="132" y2="600.5" stroke="#000" stroke-width="1.4"/>
<text x="132.8" y="613.5" font-size="10.2" text-anchor="middle" font-weight="normal" fill="#222">4</text>
<line x1="158.6" y1="596.5" x2="158.6" y2="600.5" stroke="#000" stroke-width="1.4"/>
<text x="159.4" y="613.5" font-size="10.2" text-anchor="middle" font-weight="normal" fill="#222">6</text>
<line x1="185.2" y1="596.5" x2="185.2" y2="600.5" stroke="#000" stroke-width="1.4"/>
<text x="186" y="613.5" font-size="10.2" text-anchor="middle" font-weight="normal" fill="#222">8</text>
<line x1="211.8" y1="596.5" x2="211.8" y2="600.5" stroke="#000" stroke-width="1.4"/>
<text x="212.6" y="613.5" font-size="10.2" text-anchor="middle" font-weight="normal" fill="#222">10</text>
<text x="145.7" y="626.8" font-size="10.2" text-anchor="middle" font-weight="normal" fill="#222">Dose (Gy)</text>
<text x="0" y="0" font-size="10.3" text-anchor="middle" font-weight="normal" fill="#222" transform="translate(41.9,527.6) rotate(-90)" textLength="72.5" lengthAdjust="spacingAndGlyphs">Survival fraction</text>
<path d="M78.8 490.9C87.67 493.15 96.53 499.88 105.4 504.4C114.27 508.92 123.13 512.9 132 518C140.87 523.1 149.73 529.5 158.6 535C167.47 540.5 176.33 545.67 185.2 551" stroke="#9a9ad0" stroke-width="1.2" fill="none" stroke-linecap="round"/>
<path d="M78.8 489.3L80.4 490.9L78.8 492.5L77.2 490.9Z" fill="#9a9ad0"/>
<path d="M105.4 502.8L107 504.4L105.4 506L103.8 504.4Z" fill="#9a9ad0"/>
<path d="M132 516.4L133.6 518L132 519.6L130.4 518Z" fill="#9a9ad0"/>
<path d="M158.6 533.4L160.2 535L158.6 536.6L157 535Z" fill="#9a9ad0"/>
<path d="M185.2 549.4L186.8 551L185.2 552.6L183.6 551Z" fill="#9a9ad0"/>
<path d="M78.8 490.5C87.67 491.3 96.53 492.08 105.4 495.3C114.27 498.52 123.13 504.62 132 509.8C140.87 514.98 149.73 520.6 158.6 526.4C167.47 532.2 176.33 538.53 185.2 544.6" stroke="#7a4a6a" stroke-width="1.6" fill="none" stroke-linecap="round"/>
<path d="M78.8 488.9L80.4 490.5L78.8 492.1L77.2 490.5Z" fill="#7a4a6a"/>
<path d="M105.4 493.7L107 495.3L105.4 496.9L103.8 495.3Z" fill="#7a4a6a"/>
<path d="M132 508.2L133.6 509.8L132 511.4L130.4 509.8Z" fill="#7a4a6a"/>
<path d="M158.6 524.8L160.2 526.4L158.6 528L157 526.4Z" fill="#7a4a6a"/>
<path d="M185.2 543L186.8 544.6L185.2 546.2L183.6 544.6Z" fill="#7a4a6a"/>
<path d="M78.8 490.9C87.67 491.77 96.53 492.82 105.4 496.1C114.27 499.38 123.13 505.42 132 510.6C140.87 515.78 149.73 521.4 158.6 527.2C167.47 533 176.33 539.33 185.2 545.4" stroke="#cc1a22" stroke-width="2.2" fill="none" stroke-linecap="round"/>
<path d="M78.8 489.3L80.4 490.9L78.8 492.5L77.2 490.9Z" fill="#cc1a22"/>
<path d="M105.4 494.5L107 496.1L105.4 497.7L103.8 496.1Z" fill="#cc1a22"/>
<path d="M132 509L133.6 510.6L132 512.2L130.4 510.6Z" fill="#cc1a22"/>
<path d="M158.6 525.6L160.2 527.2L158.6 528.8L157 527.2Z" fill="#cc1a22"/>
<path d="M185.2 543.8L186.8 545.4L185.2 547L183.6 545.4Z" fill="#cc1a22"/>
<path d="M78.8 490.9C87.67 492.45 96.53 496.25 105.4 500.2C114.27 504.15 123.13 509.13 132 514.6C140.87 520.07 149.73 527.2 158.6 533C167.47 538.8 176.33 543.93 185.2 549.4" stroke="#343480" stroke-width="1.8" fill="none" stroke-linecap="round"/>
<path d="M78.8 489.3L80.4 490.9L78.8 492.5L77.2 490.9Z" fill="#343480"/>
<path d="M105.4 498.6L107 500.2L105.4 501.8L103.8 500.2Z" fill="#343480"/>
<path d="M132 513L133.6 514.6L132 516.2L130.4 514.6Z" fill="#343480"/>
<path d="M158.6 531.4L160.2 533L158.6 534.6L157 533Z" fill="#343480"/>
<path d="M185.2 547.8L186.8 549.4L185.2 551L183.6 549.4Z" fill="#343480"/>
<line x1="158.1" y1="534.5" x2="158.1" y2="538" stroke="#5050a0" stroke-width="1.2"/>
<line x1="156.85" y1="534.5" x2="159.35" y2="534.5" stroke="#5050a0" stroke-width="1.2"/>
<line x1="156.85" y1="538" x2="159.35" y2="538" stroke="#5050a0" stroke-width="1.2"/>
<line x1="185.2" y1="555.2" x2="185.2" y2="559.8" stroke="#343480" stroke-width="1.6"/>
<line x1="183.6" y1="555.2" x2="186.8" y2="555.2" stroke="#343480" stroke-width="1.6"/>
<line x1="183.6" y1="559.8" x2="186.8" y2="559.8" stroke="#343480" stroke-width="1.6"/>
<line x1="185.2" y1="557.5" x2="185.2" y2="561.2" stroke="#9a9ad0" stroke-width="1.2"/>
<line x1="183.6" y1="557.5" x2="186.8" y2="557.5" stroke="#9a9ad0" stroke-width="1.2"/>
<line x1="183.6" y1="561.2" x2="186.8" y2="561.2" stroke="#9a9ad0" stroke-width="1.2"/>
<line x1="187.3" y1="465.7" x2="201.5" y2="465.7" stroke="#9a9ad0" stroke-width="1.3"/>
<path d="M194.4 464.2L195.9 465.7L194.4 467.2L192.9 465.7Z" fill="#9a9ad0"/>
<text x="204.9" y="470" font-size="10.45" text-anchor="start" font-weight="normal" fill="#222">Control</text>
<line x1="187.3" y1="479.37" x2="201.5" y2="479.37" stroke="#7a4a6a" stroke-width="1.3"/>
<path d="M194.4 477.87L195.9 479.37L194.4 480.87L192.9 479.37Z" fill="#7a4a6a"/>
<text x="204.9" y="483.67" font-size="10.45" text-anchor="start" font-weight="normal" fill="#222">IL-6</text>
<line x1="187.3" y1="493.04" x2="201.5" y2="493.04" stroke="#cc1a22" stroke-width="1.6"/>
<path d="M194.4 491.54L195.9 493.04L194.4 494.54L192.9 493.04Z" fill="#cc1a22"/>
<text x="204.9" y="497.34" font-size="10.45" text-anchor="start" font-weight="normal" fill="#222">EGF+bFGF</text>
<line x1="187.3" y1="506.71" x2="201.5" y2="506.71" stroke="#343480" stroke-width="1.6"/>
<path d="M194.4 505.21L195.9 506.71L194.4 508.21L192.9 506.71Z" fill="#343480"/>
<text x="204.9" y="511.01" font-size="10.45" text-anchor="start" font-weight="normal" fill="#222">TGF-<tspan font-family="Liberation Serif" font-style="italic">&#946;</tspan></text>
<text x="324.6" y="455.8" font-size="17" text-anchor="start" font-weight="bold" fill="#000" stroke="#000" stroke-width="0.5">F</text>
<line x1="363.7" y1="611.7" x2="366.7" y2="611.7" stroke="#000" stroke-width="1.6"/>
<text x="359.8" y="615" font-size="10.3" text-anchor="end" font-weight="normal" fill="#222">0</text>
<line x1="363.7" y1="589.5" x2="613.5" y2="589.5" stroke="#707070" stroke-width="1.3"/>
<line x1="363.7" y1="589.5" x2="366.7" y2="589.5" stroke="#000" stroke-width="1.6"/>
<text x="359.8" y="592.8" font-size="10.3" text-anchor="end" font-weight="normal" fill="#222">50</text>
<line x1="363.7" y1="567.3" x2="613.5" y2="567.3" stroke="#707070" stroke-width="1.3"/>
<line x1="363.7" y1="567.3" x2="366.7" y2="567.3" stroke="#000" stroke-width="1.6"/>
<text x="359.8" y="570.6" font-size="10.3" text-anchor="end" font-weight="normal" fill="#222">100</text>
<line x1="363.7" y1="545.1" x2="613.5" y2="545.1" stroke="#707070" stroke-width="1.3"/>
<line x1="363.7" y1="545.1" x2="366.7" y2="545.1" stroke="#000" stroke-width="1.6"/>
<text x="359.8" y="548.4" font-size="10.3" text-anchor="end" font-weight="normal" fill="#222">150</text>
<line x1="363.7" y1="522.9" x2="613.5" y2="522.9" stroke="#707070" stroke-width="1.3"/>
<line x1="363.7" y1="522.9" x2="366.7" y2="522.9" stroke="#000" stroke-width="1.6"/>
<text x="359.8" y="526.2" font-size="10.3" text-anchor="end" font-weight="normal" fill="#222">200</text>
<line x1="363.7" y1="500.7" x2="613.5" y2="500.7" stroke="#707070" stroke-width="1.3"/>
<line x1="363.7" y1="500.7" x2="366.7" y2="500.7" stroke="#000" stroke-width="1.6"/>
<text x="359.8" y="504" font-size="10.3" text-anchor="end" font-weight="normal" fill="#222">250</text>
<line x1="363.7" y1="478.5" x2="613.5" y2="478.5" stroke="#707070" stroke-width="1.3"/>
<line x1="363.7" y1="478.5" x2="366.7" y2="478.5" stroke="#000" stroke-width="1.6"/>
<text x="359.8" y="481.8" font-size="10.3" text-anchor="end" font-weight="normal" fill="#222">300</text>
<line x1="363.7" y1="456.3" x2="613.5" y2="456.3" stroke="#707070" stroke-width="1.3"/>
<line x1="363.7" y1="456.3" x2="366.7" y2="456.3" stroke="#000" stroke-width="1.6"/>
<text x="359.8" y="459.6" font-size="10.3" text-anchor="end" font-weight="normal" fill="#222">350</text>
<line x1="363.7" y1="456.3" x2="363.7" y2="611.7" stroke="#000" stroke-width="1.4"/>
<line x1="363.7" y1="611.7" x2="614" y2="611.7" stroke="#222" stroke-width="1.5"/>
<line x1="364.6" y1="611.7" x2="364.6" y2="609.2" stroke="#000" stroke-width="1.2"/>
<line x1="427" y1="611.7" x2="427" y2="609.2" stroke="#000" stroke-width="1.2"/>
<line x1="489.4" y1="611.7" x2="489.4" y2="609.2" stroke="#000" stroke-width="1.2"/>
<line x1="551.8" y1="611.7" x2="551.8" y2="609.2" stroke="#000" stroke-width="1.2"/>
<line x1="614.2" y1="611.7" x2="614.2" y2="609.2" stroke="#000" stroke-width="1.2"/>
<rect x="382.3" y="582.09" width="25.2" height="29.61" fill="#9999FF" stroke="#333" stroke-width="0.8"/>
<rect x="444.85" y="525.65" width="25.2" height="86.05" fill="#800080" stroke="#333" stroke-width="0.8"/>
<rect x="507.4" y="478.81" width="25.2" height="132.89" fill="#FF0000" stroke="#333" stroke-width="0.8"/>
<rect x="569.95" y="487.38" width="25.2" height="124.32" fill="#0066CC" stroke="#333" stroke-width="0.8"/>
<line x1="394.9" y1="579.07" x2="394.9" y2="585.1" stroke="#111" stroke-width="1.3"/>
<line x1="393.15" y1="579.07" x2="396.65" y2="579.07" stroke="#111" stroke-width="1.3"/>
<line x1="393.15" y1="585.1" x2="396.65" y2="585.1" stroke="#111" stroke-width="1.3"/>
<line x1="457.45" y1="520.06" x2="457.45" y2="531.25" stroke="#111" stroke-width="1.3"/>
<line x1="455.7" y1="520.06" x2="459.2" y2="520.06" stroke="#111" stroke-width="1.3"/>
<line x1="455.7" y1="531.25" x2="459.2" y2="531.25" stroke="#111" stroke-width="1.3"/>
<line x1="520" y1="473.48" x2="520" y2="484.14" stroke="#111" stroke-width="1.3"/>
<line x1="518.25" y1="473.48" x2="521.75" y2="473.48" stroke="#111" stroke-width="1.3"/>
<line x1="518.25" y1="484.14" x2="521.75" y2="484.14" stroke="#111" stroke-width="1.3"/>
<line x1="582.55" y1="481.96" x2="582.55" y2="492.8" stroke="#111" stroke-width="1.3"/>
<line x1="580.8" y1="481.96" x2="584.3" y2="481.96" stroke="#111" stroke-width="1.3"/>
<line x1="580.8" y1="492.8" x2="584.3" y2="492.8" stroke="#111" stroke-width="1.3"/>
<text x="391" y="625" font-size="10.2" text-anchor="middle" font-weight="normal" fill="#222">Control</text>
<text x="453.9" y="625" font-size="10.2" text-anchor="middle" font-weight="normal" fill="#222">IL-6</text>
<text x="520" y="625" font-size="10.2" text-anchor="middle" font-weight="normal" fill="#222">EGF+bFGF</text>
<text x="580.3" y="625" font-size="10.2" text-anchor="middle" font-weight="normal" fill="#222">TGF-<tspan font-family="Liberation Serif" font-style="italic">&#946;</tspan></text>
<text x="0" y="0" font-size="10.2" text-anchor="middle" font-weight="normal" fill="#222" transform="translate(334.5,534.4) rotate(-90)" textLength="104.5" lengthAdjust="spacingAndGlyphs">Mean # cells/x200 field</text>
<path d="M384.8 578.9V465.6H523.8V478.4" stroke="#000" stroke-width="2" fill="none"/>
<path d="M393.7 580.6V475.8H584.5V481.9" stroke="#000" stroke-width="2" fill="none"/>
<path d="M401.3 576.8V516H454.4V519.8" stroke="#000" stroke-width="1.8" fill="none"/>
<text x="431.8" y="464.6" font-size="10.6" fill="#222"><tspan font-style="italic">P</tspan>=0.000</text>
<text x="461.4" y="475" font-size="10.6" fill="#222"><tspan font-style="italic">P</tspan>=0.000</text>
<text x="409.5" y="513.9" font-size="10.6" fill="#222"><tspan font-style="italic">P</tspan>=0.000</text>
</svg>
</body></html>
